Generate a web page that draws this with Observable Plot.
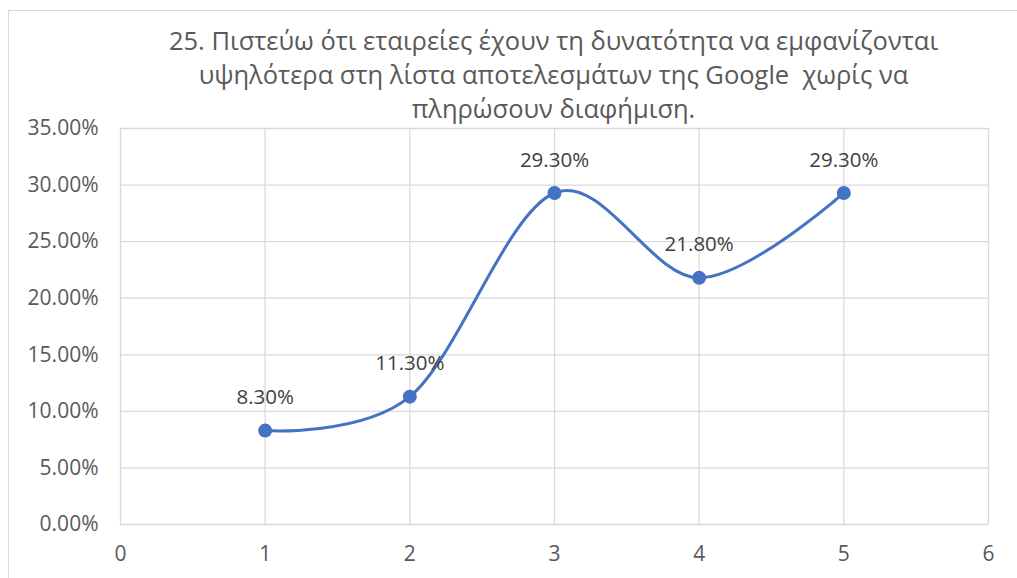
<!DOCTYPE html>
<html>
<head>
<meta charset="utf-8">
<script src="https://cdn.jsdelivr.net/npm/d3@7"></script>
<script src="https://cdn.jsdelivr.net/npm/@observablehq/plot@0.6"></script>
<style>
  html, body { margin: 0; padding: 0; background: #fff; }
  body { width: 1017px; height: 578px; overflow: hidden; position: relative; }
  #frame {
    position: absolute; left: 8px; top: 10px; width: 2000px; height: 2000px;
    border: 1.5px solid #d9d9d9; box-sizing: border-box; pointer-events: none;
  }
  #title {
    position: relative; z-index: 1;
    margin-left: 90px; width: 927px; height: 118px; box-sizing: border-box;
    padding-top: 23px;
    font-family: "Open Sans", sans-serif; font-size: 25.5px; line-height: 34px;
    color: #595959; text-align: center; white-space: pre;
  }
  #chart { position: relative; }
  #chart svg { overflow: visible; }
</style>
</head>
<body>
<div id="frame"></div>
<div id="title"></div>
<div id="chart"></div>
<script>
// Question title, one entry per line
const titleLines = [
  "25. Πιστεύω ότι εταιρείες έχουν τη δυνατότητα να εμφανίζονται",
  "υψηλότερα στη λίστα αποτελεσμάτων της Google  χωρίς να",
  "πληρώσουν διαφήμιση."
];

// Answer scale (1–5) and share of respondents
const categories = [1, 2, 3, 4, 5];
const shares = [0.083, 0.113, 0.293, 0.218, 0.293];

// Axis ticks
const xTicks = [0, 1, 2, 3, 4, 5, 6];
const yTicks = [0, 0.05, 0.10, 0.15, 0.20, 0.25, 0.30, 0.35];

const pct = d3.format(".2%");
const data = categories.map((c, i) => ({category: c, share: shares[i], label: pct(shares[i])}));

document.getElementById("title").textContent = titleLines.join("\n");

const blue = "#4472C4";
const grid = "#d9d9d9";

const chart = Plot.plot({
  width: 1017,
  height: 460,
  marginTop: 10,
  marginBottom: 54,
  marginLeft: 120,
  marginRight: 29,
  style: {
    fontFamily: "'Open Sans', sans-serif",
    fontSize: "21px",
    color: "#595959",
    background: "transparent",
    overflow: "visible"
  },
  x: {domain: [0, 6], label: null},
  y: {domain: [0, 0.35], label: null},
  marks: [
    Plot.gridX(xTicks, {stroke: grid, strokeOpacity: 1, strokeWidth: 1.3}),
    Plot.gridY(yTicks, {stroke: grid, strokeOpacity: 1, strokeWidth: 1.3}),
    Plot.axisX(xTicks, {tickSize: 0, tickPadding: 22, tickFormat: d => String(d), fill: "#595959", label: null}),
    Plot.axisY(yTicks, {tickSize: 0, tickPadding: 22, tickFormat: pct, fill: "#595959", label: null}),
    Plot.line(data, {x: "category", y: "share", curve: "cardinal", stroke: blue, strokeWidth: 3}),
    Plot.dot(data, {x: "category", y: "share", r: 7, fill: blue, stroke: "none"}),
    Plot.text(data, {x: "category", y: "share", text: "label", dy: -33, fill: "#404040", fontSize: 20.5})
  ]
});

document.getElementById("chart").appendChild(chart);
</script>
</body>
</html>
